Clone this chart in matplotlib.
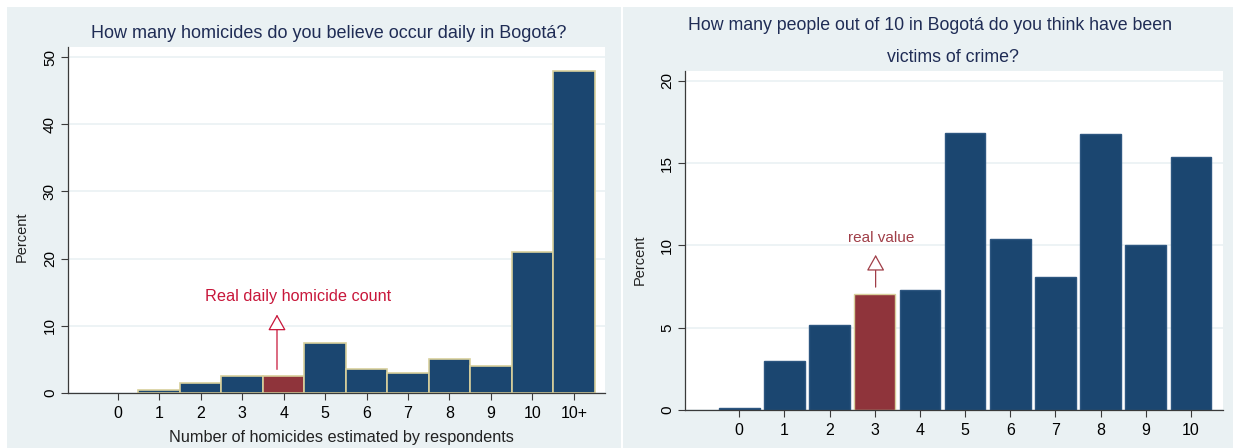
import matplotlib
matplotlib.use("Agg")
import matplotlib.pyplot as plt
from matplotlib.patches import Rectangle, FancyArrowPatch

plt.rcParams['font.family'] = ['Liberation Sans', 'DejaVu Sans']

# left chart: perceived daily homicides
hom_labels = ['0', '1', '2', '3', '4', '5', '6', '7', '8', '9', '10', '10+']
hom_pct = [0.0, 0.5, 1.5, 2.5, 2.5, 7.5, 3.5, 3.0, 5.0, 4.0, 21.0, 48.0]
hom_real = '4'

# right chart: perceived victims out of 10
vic_labels = ['0', '1', '2', '3', '4', '5', '6', '7', '8', '9', '10']
vic_pct = [0.15, 2.95, 5.15, 7.05, 7.3, 16.85, 10.4, 8.1, 16.8, 10.05, 15.4]
vic_real = '3'

W, H = 1233, 448
navy = '#1b4670'
maroon = '#8f343b'
khaki = '#d8d09c'
panel = '#eaf1f3'
title_col = '#1f2c55'


def fx(px):
    return px / W


def fy(py):
    return 1 - py / H


fig = plt.figure(figsize=(W / 100, H / 100), dpi=100)
fig.patch.set_facecolor('white')
# light background of each panel
fig.patches.append(Rectangle((fx(7), 0), fx(621) - fx(7), fy(7), transform=fig.transFigure,
                             facecolor=panel, edgecolor='none', zorder=-5))
fig.patches.append(Rectangle((fx(623), 0), fx(1233) - fx(623), fy(7), transform=fig.transFigure,
                             facecolor=panel, edgecolor='none', zorder=-5))


def style_axes(ax, ticks):
    ax.set_facecolor('white')
    for s in ['top', 'right']:
        ax.spines[s].set_visible(False)
    for s in ['left', 'bottom']:
        ax.spines[s].set_color('#3a3a3a')
        ax.spines[s].set_linewidth(0.9)
    ax.set_yticks(ticks)
    ax.tick_params(axis='y', labelrotation=90, labelsize=11, length=5, color='#3a3a3a', pad=3)
    ax.tick_params(axis='x', labelsize=11.5, length=5, color='#3a3a3a', pad=4)
    for lab in ax.get_yticklabels():
        lab.set_va('center')
    ax.yaxis.grid(True, color=panel, linewidth=1.2)
    ax.set_axisbelow(True)


# ---- left panel
ax1 = fig.add_axes([fx(68), fy(393), fx(605) - fx(68), fy(47) - fy(393)])
x1 = list(range(len(hom_labels)))
cols1 = [maroon if l == hom_real else navy for l in hom_labels]
lw1 = [1.2 if v > 0 else 0 for v in hom_pct]
ax1.bar(x1, hom_pct, width=1.0, color=cols1, edgecolor=khaki, linewidth=lw1, zorder=2)
ax1.set_xticks(x1)
ax1.set_xticklabels(hom_labels)
ax1.set_xlim(-1.2, 11.75)
ax1.set_ylim(0, 51.5)
style_axes(ax1, [0, 10, 20, 30, 40, 50])

i1 = hom_labels.index(hom_real)
ax1.add_patch(FancyArrowPatch((i1 - 0.16, hom_pct[i1] + 0.6), (i1 - 0.16, 12.1),
                              arrowstyle='-|>,head_length=0.5,head_width=0.28', mutation_scale=20,
                              facecolor='white', edgecolor='#c8163a', linewidth=0.9, zorder=3))
ax1.text(i1 + 0.34, 14.4, 'Real daily homicide count', color='#c8163a', fontsize=11.7,
         ha='center', va='center')

fig.text(fx(329), fy(33), 'How many homicides do you believe occur daily in Bogotá?',
         color=title_col, fontsize=13, ha='center', va='center')
fig.text(fx(341), fy(437), 'Number of homicides estimated by respondents',
         color='#222222', fontsize=11.7, ha='center', va='center')
fig.text(fx(22), fy(237), 'Percent', color='#222222', fontsize=10.5, rotation=90,
         ha='center', va='center')

# ---- right panel
ax2 = fig.add_axes([fx(685), fy(410), fx(1223) - fx(685), fy(71) - fy(410)])
x2 = list(range(len(vic_labels)))
cols2 = [maroon if l == vic_real else navy for l in vic_labels]
edges2 = [khaki if l == vic_real else '#2d5680' for l in vic_labels]
ax2.bar(x2, vic_pct, width=0.9, color=cols2, edgecolor=edges2, linewidth=1.0, zorder=2)
ax2.set_xticks(x2)
ax2.set_xticklabels(vic_labels)
ax2.set_xlim(-1.2, 10.71)
ax2.set_ylim(0, 20.6)
style_axes(ax2, [0, 5, 10, 15, 20])

i2 = vic_labels.index(vic_real)
ax2.add_patch(FancyArrowPatch((i2 + 0.02, vic_pct[i2] + 0.25), (i2 + 0.02, 9.6),
                              arrowstyle='-|>,head_length=0.5,head_width=0.28', mutation_scale=20,
                              facecolor='white', edgecolor='#a03e48', linewidth=0.9, zorder=3))
ax2.text(i2 + 0.14, 10.45, 'real value', color='#a03e48', fontsize=11, ha='center', va='center')

fig.text(fx(930), fy(25), 'How many people out of 10 in Bogotá do you think have been',
         color=title_col, fontsize=12.8, ha='center', va='center')
fig.text(fx(953), fy(58), 'victims of crime?', color=title_col, fontsize=12.8,
         ha='center', va='center')
fig.text(fx(640), fy(260), 'Percent', color='#222222', fontsize=10.5, rotation=90,
         ha='center', va='center')

fig.savefig('out.png', dpi=100, facecolor=fig.get_facecolor())
